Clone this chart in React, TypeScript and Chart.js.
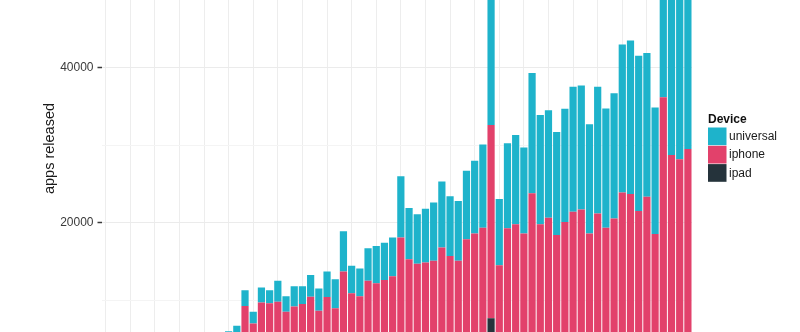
import React, { useEffect, useRef } from 'react';
import { Chart, registerables } from 'chart.js';

Chart.register(...registerables);

const months: string[] = [
  '2008-07', '2008-08', '2008-09', '2008-10', '2008-11', '2008-12',
  '2009-01', '2009-02', '2009-03', '2009-04', '2009-05', '2009-06',
  '2009-07', '2009-08', '2009-09', '2009-10', '2009-11', '2009-12',
  '2010-01', '2010-02', '2010-03', '2010-04', '2010-05', '2010-06',
  '2010-07', '2010-08', '2010-09', '2010-10', '2010-11', '2010-12',
  '2011-01', '2011-02', '2011-03', '2011-04', '2011-05', '2011-06',
  '2011-07', '2011-08', '2011-09', '2011-10', '2011-11', '2011-12',
  '2012-01', '2012-02', '2012-03', '2012-04', '2012-05', '2012-06',
  '2012-07', '2012-08', '2012-09', '2012-10', '2012-11', '2012-12',
  '2013-01', '2013-02', '2013-03', '2013-04', '2013-05', '2013-06',
  '2013-07', '2013-08', '2013-09', '2013-10', '2013-11', '2013-12',
  '2014-01', '2014-02', '2014-03', '2014-04', '2014-05', '2014-06',
];

const ipad: number[] = [
  0, 0, 0, 0, 0, 0, 0, 0, 0, 0, 0, 0,
  0, 0, 0, 0, 0, 0, 400, 600, 800, 1000, 1100, 1200,
  1300, 1400, 1500, 1600, 1600, 1800, 1700, 1700, 1900, 2000, 2000, 2100,
  2400, 2200, 2200, 2300, 2300, 2500, 2400, 2300, 2600, 2700, 2800, 7660,
  2300, 2800, 2900, 2700, 3200, 2900, 3000, 2800, 3000, 3100, 3200, 2900,
  3100, 3000, 3100, 3400, 3400, 3200, 3400, 2900, 4000, 3600, 3500, 3700,
];

const iphone: number[] = [
  350, 1100, 1600, 1900, 2200, 2400, 2600, 2800, 2900, 3000, 3200, 3400,
  3700, 3900, 4200, 4600, 5200, 9250, 6600, 9100, 8800, 8800, 7400, 8000,
  8200, 9050, 7150, 8800, 7350, 11900, 9200, 8800, 10600, 10200, 10600, 11000,
  15700, 13100, 12500, 12550, 12800, 14300, 13300, 12800, 15250, 15900, 16550, 24940,
  12200, 16500, 16900, 15900, 20600, 16900, 17650, 15600, 17100, 18300, 18500, 15700,
  18100, 16350, 17450, 20500, 20300, 18300, 19950, 15650, 32200, 25150, 24700, 25800,
];

const universal: number[] = [
  50, 100, 200, 300, 300, 400, 500, 500, 600, 600, 700, 800,
  900, 1100, 1200, 1400, 1500, 2050, 1500, 1950, 1700, 2700, 2000, 2600,
  2300, 2800, 2850, 3300, 3750, 5200, 3550, 3600, 4200, 4800, 4800, 5000,
  7900, 6600, 6400, 6950, 7500, 8500, 7700, 7700, 8850, 9400, 10750, 19400,
  8550, 10950, 11500, 11100, 15500, 14100, 13850, 13300, 14600, 16150, 16000, 14100,
  16350, 15400, 16150, 19100, 19800, 20050, 18550, 16300, 21800, 23250, 22800, 24500,
];

const yTicks: number[] = [10000, 20000, 30000, 40000];
const yLabelled: number[] = [20000, 40000];

const legendItems: string[] = ['universal', 'iphone', 'ipad'];

const COLORS: Record<string, string> = {
  universal: '#1eb3cb',
  iphone: '#e2416b',
  ipad: '#25333b',
};

const FONT = '"Liberation Sans", Arial, Helvetica, sans-serif';

const overlay = {
  id: 'overlay',
  afterDraw(chart: any) {
    const ctx = chart.ctx as CanvasRenderingContext2D;
    ctx.save();
    ctx.translate(54, 148.5);
    ctx.rotate(-Math.PI / 2);
    ctx.font = `14.5px ${FONT}`;
    ctx.fillStyle = '#1a1a1a';
    ctx.textAlign = 'center';
    ctx.textBaseline = 'alphabetic';
    ctx.fillText('apps released', 0, 0);
    ctx.restore();

    ctx.save();
    ctx.font = `bold 12px ${FONT}`;
    ctx.fillStyle = '#111111';
    ctx.textAlign = 'left';
    ctx.textBaseline = 'alphabetic';
    ctx.fillText('Device', 708, 123);
    const keyX = 708;
    const keyY0 = 127.5;
    const keyH = 18.3;
    legendItems.forEach((name, i) => {
      const y = keyY0 + i * keyH;
      ctx.fillStyle = COLORS[name];
      ctx.fillRect(keyX, y, 18.5, keyH - 0.6);
      ctx.font = `12px ${FONT}`;
      ctx.fillStyle = '#1a1a1a';
      ctx.textBaseline = 'middle';
      ctx.fillText(name, 729, y + keyH / 2);
    });
    ctx.restore();
  },
};

export default function App() {
  const ref = useRef<HTMLCanvasElement | null>(null);

  useEffect(() => {
    if (!ref.current) return;
    const chart = new Chart(ref.current, {
      type: 'bar',
      data: {
        labels: months,
        datasets: [
          { label: 'ipad', data: ipad, backgroundColor: COLORS.ipad },
          { label: 'iphone', data: iphone, backgroundColor: COLORS.iphone },
          { label: 'universal', data: universal, backgroundColor: COLORS.universal },
        ],
      },
      options: {
        animation: false,
        responsive: false,
        devicePixelRatio: 1,
        layout: { padding: { left: 0, right: 108, top: 0, bottom: 0 } },
        datasets: {
          bar: { barPercentage: 0.88, categoryPercentage: 1, borderWidth: 0 },
        },
        plugins: {
          legend: { display: false },
          tooltip: { enabled: false },
        },
        scales: {
          x: {
            stacked: true,
            offset: true,
            ticks: { display: false },
            border: { display: false },
            grid: {
              offset: false,
              drawTicks: false,
              color: (c: any) => (c.index % 3 === 0 ? '#ededed' : 'rgba(0,0,0,0)'),
              lineWidth: 1,
            },
            afterFit: (s: any) => {
              s.height = 0;
              s.paddingLeft = 0;
              s.paddingRight = 0;
              s.paddingTop = 0;
              s.paddingBottom = 0;
            },
          },
          y: {
            stacked: true,
            min: 5897,
            max: 48735,
            border: { display: false },
            afterBuildTicks: (s: any) => {
              s.ticks = yTicks.map((v) => ({ value: v }));
            },
            afterFit: (s: any) => {
              s.width = 101.5;
              s.paddingTop = 0;
              s.paddingBottom = 0;
              s.paddingLeft = 0;
              s.paddingRight = 0;
            },
            ticks: {
              padding: 4,
              color: '#3a3a3a',
              font: { family: FONT, size: 12 },
              callback: (v: any) => (yLabelled.includes(Number(v)) ? String(v) : ''),
            },
            grid: {
              drawTicks: true,
              tickLength: 4,
              tickWidth: 1.5,
              tickColor: (c: any) =>
                c.tick && yLabelled.includes(c.tick.value) ? '#3a3a3a' : 'rgba(0,0,0,0)',
              color: (c: any) =>
                c.tick && yLabelled.includes(c.tick.value) ? '#ebebeb' : '#f4f4f4',
              lineWidth: 1,
            },
          },
        },
      },
      plugins: [overlay],
    });
    return () => chart.destroy();
  }, []);

  return (
    <div style={{ position: 'fixed', left: 0, top: 0, width: 800, height: 332, background: '#ffffff' }}>
      <canvas ref={ref} width={800} height={332} style={{ display: 'block' }} />
    </div>
  );
}
